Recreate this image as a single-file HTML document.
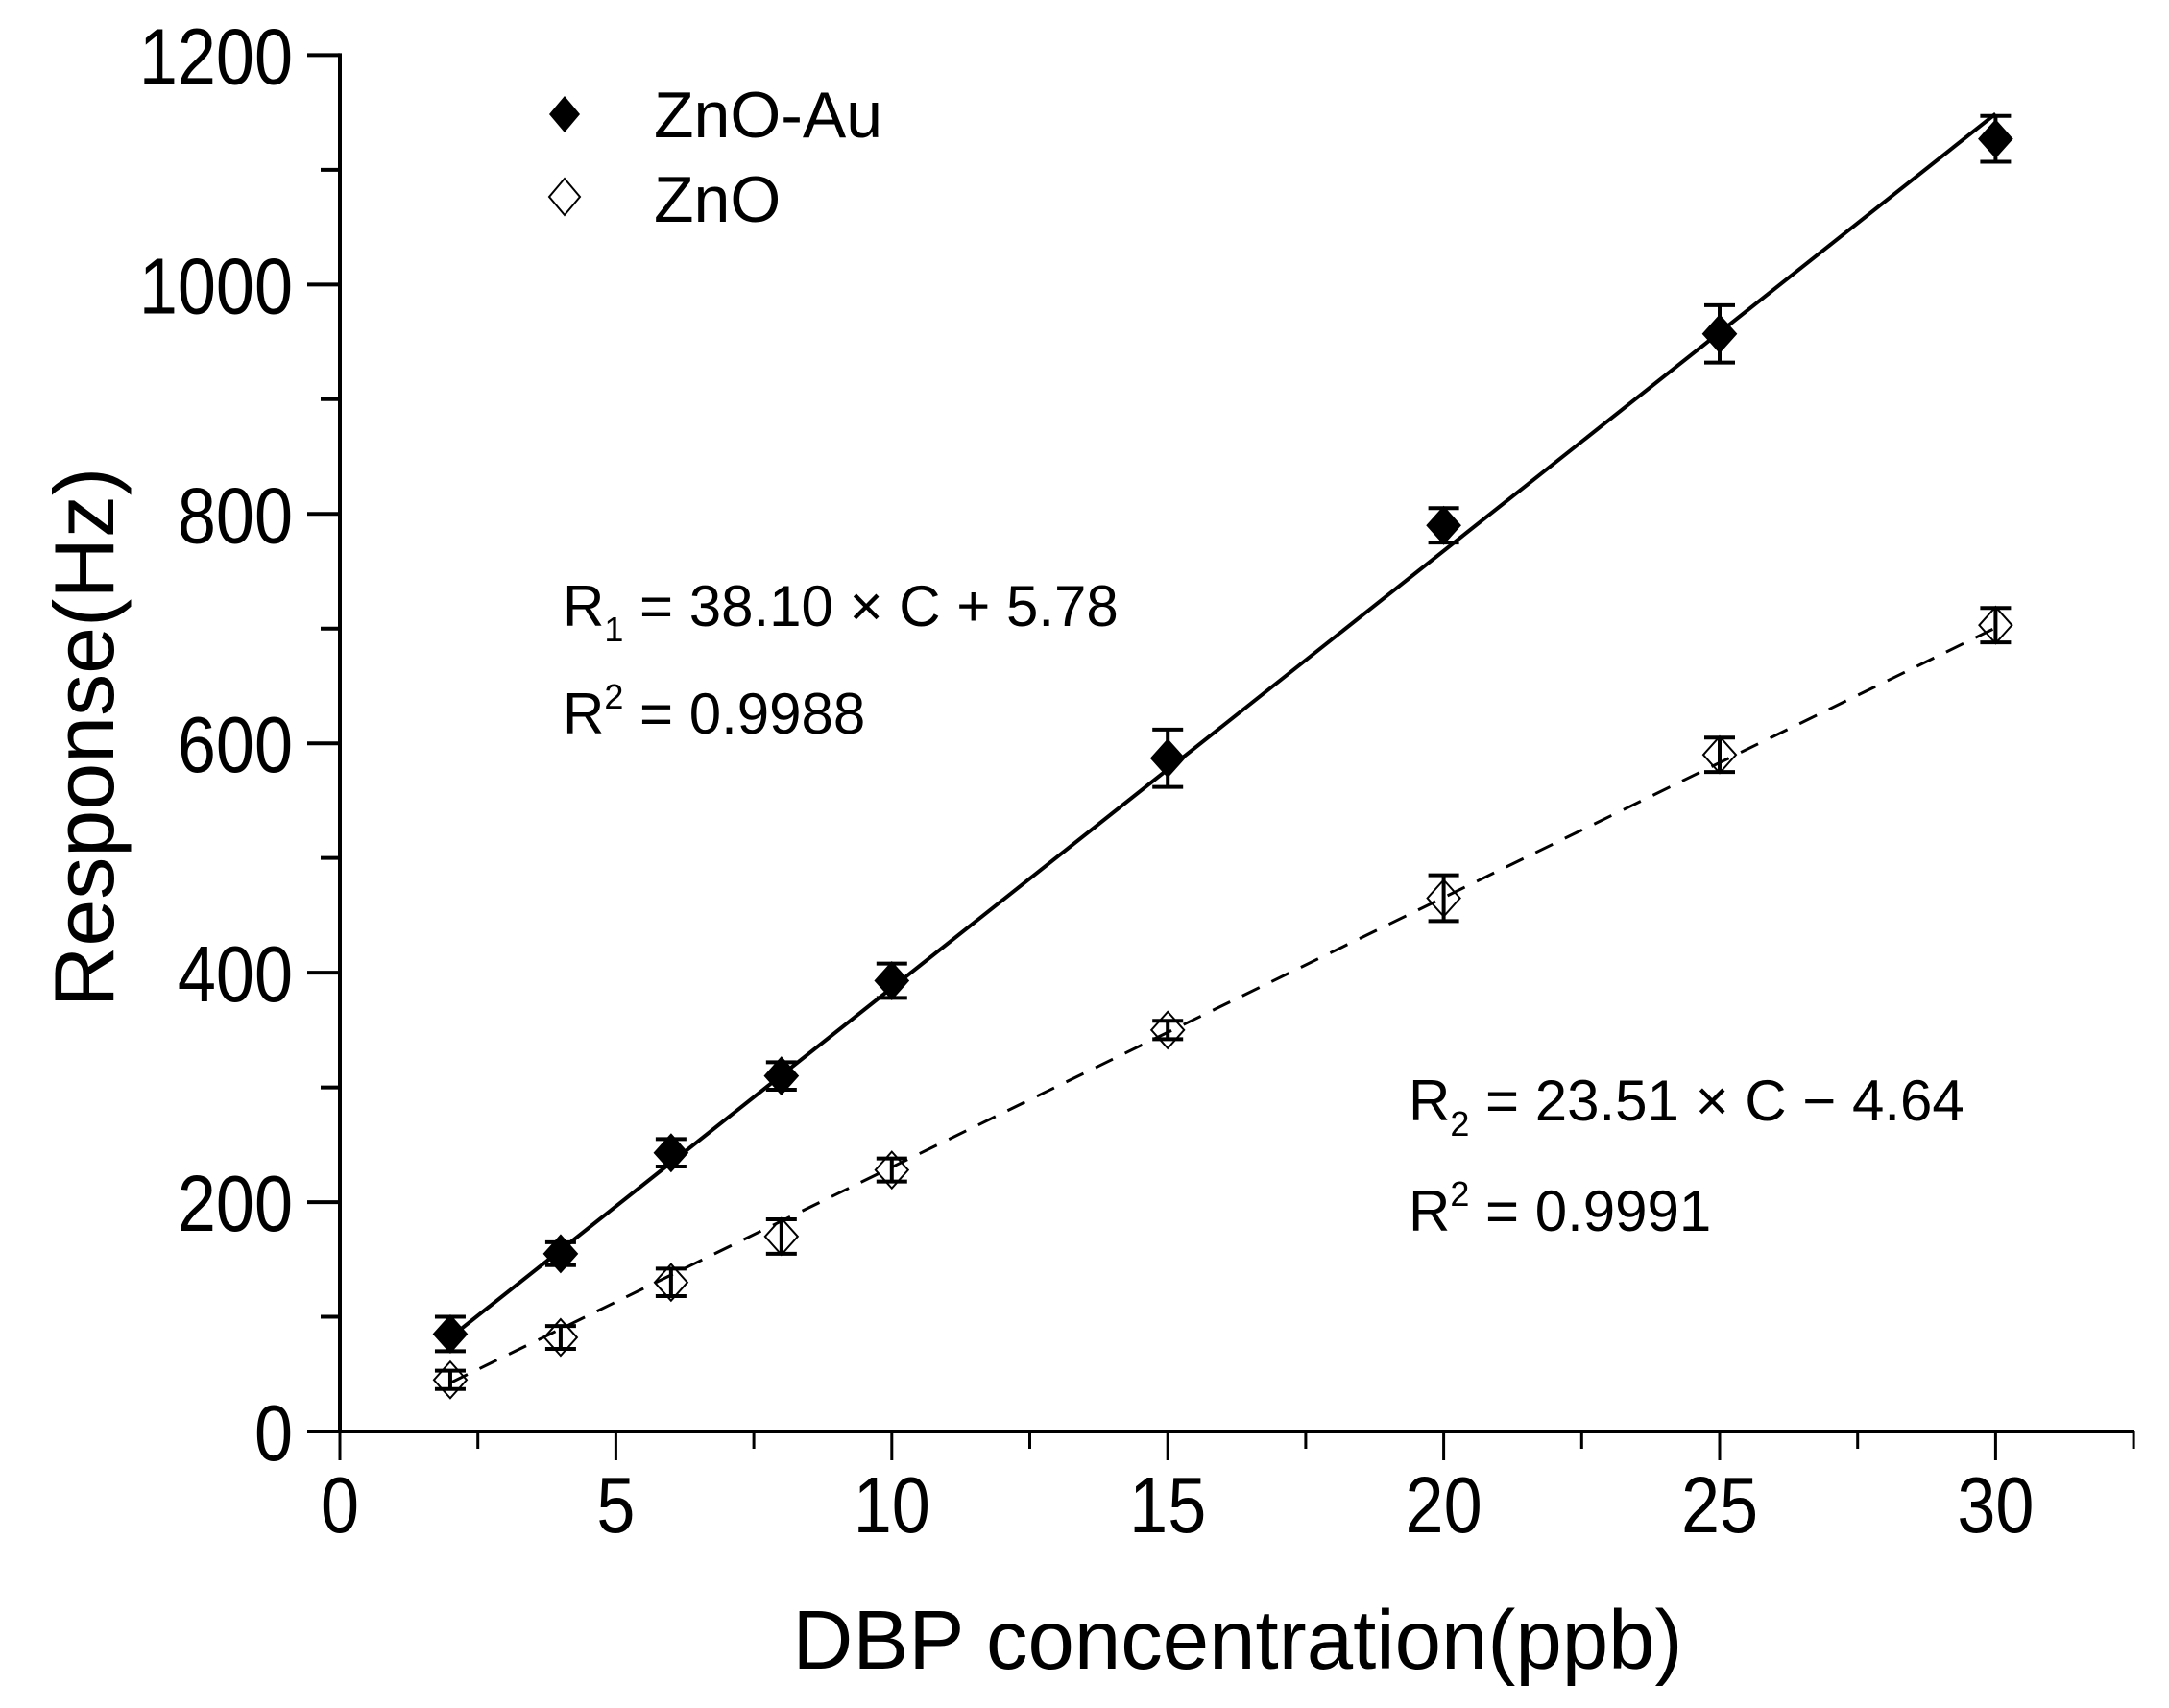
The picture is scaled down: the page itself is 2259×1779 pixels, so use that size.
<!DOCTYPE html>
<html><head><meta charset="utf-8"><style>
html,body{margin:0;padding:0;background:#fff;}
svg{display:block;font-family:"Liberation Sans",Arial,sans-serif;}
</style></head><body>
<svg id="chart" width="2259" height="1779" viewBox="0 0 2259 1779" xmlns="http://www.w3.org/2000/svg">
<g id="axes"></g>
<g id="marks"></g>
<g>
  <path d="M588,100 L604,119 L588,138 L572,119 Z" fill="#000"/>
  <text x="681" y="143" font-size="68">ZnO-Au</text>
  <path d="M588,186 L604,205 L588,224 L572,205 Z" fill="#fff" stroke="#000" stroke-width="2"/>
  <text x="681" y="231" font-size="68">ZnO</text>
</g>
<g font-size="60">
  <text x="586" y="652">R<tspan font-size="36" dy="16">1</tspan><tspan dy="-16"> = 38.10 × C + 5.78</tspan></text>
  <text x="586" y="764">R<tspan font-size="36" dy="-26">2</tspan><tspan dy="26"> = 0.9988</tspan></text>
  <text x="1467" y="1167">R<tspan font-size="36" dy="16">2</tspan><tspan dy="-16"> = 23.51 × C − 4.64</tspan></text>
  <text x="1467" y="1282">R<tspan font-size="36" dy="-26">2</tspan><tspan dy="26"> = 0.9991</tspan></text>
</g>
<text x="0" y="0" font-size="88" text-anchor="middle" transform="translate(118,768) rotate(-90)">Response(Hz)</text>
<text x="1289" y="1738" font-size="87" text-anchor="middle">DBP concentration(ppb)</text>
</svg>
<script>
const categories = [2, 4, 6, 8, 10, 15, 20, 25, 30];
const znoAuValues = [85, 155, 243, 310, 393, 587, 790, 957, 1127];
const znoAuErrors = [15, 10, 12, 12, 15, 25, 15, 25, 20];
const znoValues = [45, 82, 130, 170, 228, 350, 465, 590, 703];
const znoErrors = [8, 10, 12, 15, 10, 8, 20, 15, 15];
const fitZnoAu = [38.10, 5.78];
const fitZno = [23.51, -4.64];
const xTicks = [0, 5, 10, 15, 20, 25, 30];
const yTicks = [0, 200, 400, 600, 800, 1000, 1200];

const NS = "http://www.w3.org/2000/svg";
const X0 = 354, XS = 57.48, Y0 = 1491, YS = (1491 - 57.4) / 1200;
function sx(v) { return X0 + v * XS; }
function sy(v) { return Y0 - v * YS; }
function mk(tag, attrs, parent) {
  const e = document.createElementNS(NS, tag);
  for (const k in attrs) e.setAttribute(k, attrs[k]);
  parent.appendChild(e);
  return e;
}
const axes = document.getElementById('axes');
const marks = document.getElementById('marks');

let a = mk('line', {x1: X0, y1: sy(1200) - 2, x2: X0, y2: Y0 + 2, stroke: '#000', 'stroke-width': 4}, axes);


a = mk('line', {x1: X0 - 34, y1: Y0, x2: 2223, y2: Y0, stroke: '#000', 'stroke-width': 4}, axes);



for (let v = 0; v <= 1200; v += 100) {
  const major = v % 200 === 0;
  const t = mk('line', {x1: X0 - (major ? 34 : 20), y1: sy(v), x2: X0, y2: sy(v), stroke: '#000', 'stroke-width': 4}, axes);
  
  
}
yTicks.forEach(v => {
  const t = mk('text', {x: 305, y: 0, 'font-size': 72, 'text-anchor': 'end',
    transform: `translate(0,${sy(v) + 30}) scale(1,1.15)`}, axes);
  t.textContent = v;
  
  
});
for (let v = 0; v <= 32.5; v += 2.5) {
  const major = v % 5 === 0;
  const t = mk('line', {x1: sx(v), y1: Y0, x2: sx(v), y2: Y0 + (major ? 30 : 18), stroke: '#000', 'stroke-width': 3}, axes);
  
  
}
xTicks.forEach(v => {
  const t = mk('text', {x: sx(v), y: 0, 'font-size': 72, 'text-anchor': 'middle',
    transform: 'translate(0,1596) scale(1,1.15)'}, axes);
  t.textContent = v;
  
  
});

function fitLine(fit, dashed, name) {
  const x1 = categories[0], x2 = categories[categories.length - 1];
  const l = mk('line', {x1: sx(x1), y1: sy(fit[0] * x1 + fit[1]), x2: sx(x2), y2: sy(fit[0] * x2 + fit[1]),
    stroke: '#000', 'stroke-width': dashed ? 3 : 4, 'stroke-dasharray': dashed ? '20 14' : 'none'}, marks);
  
  
}
fitLine(fitZnoAu, false, 'fit-line-zno-au');
fitLine(fitZno, true, 'fit-line-zno');

function series(vals, errs, filled, name) {
  categories.forEach((c, i) => {
    const x = sx(c), y = sy(vals[i]);
    const g = mk('g', {}, marks);
    
    
    const yt = sy(vals[i] + errs[i]), yb = sy(vals[i] - errs[i]);
    mk('line', {x1: x, y1: yt, x2: x, y2: yb, stroke: '#000', 'stroke-width': 4}, g);
    mk('line', {x1: x - 16, y1: yt, x2: x + 16, y2: yt, stroke: '#000', 'stroke-width': 4}, g);
    mk('line', {x1: x - 16, y1: yb, x2: x + 16, y2: yb, stroke: '#000', 'stroke-width': 4}, g);
    mk('path', {d: `M${x},${y - 19} L${x + 17},${y} L${x},${y + 19} L${x - 17},${y} Z`,
      fill: filled ? '#000' : 'none', stroke: '#000', 'stroke-width': 2}, g);
  });
}
series(znoAuValues, znoAuErrors, true, 'zno-au');
series(znoValues, znoErrors, false, 'zno');
</script>
</body></html>
